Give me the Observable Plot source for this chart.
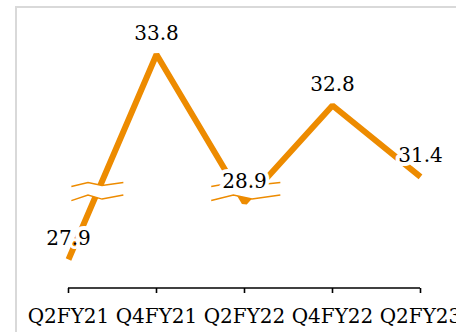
<!DOCTYPE html>
<html><head><meta charset="utf-8">
<script src="https://cdn.jsdelivr.net/npm/d3@7"></script>
<script src="https://cdn.jsdelivr.net/npm/@observablehq/plot@0.6"></script>
<style>
html,body{margin:0;padding:0;background:#fff;overflow:hidden;}
#wrap{position:relative;width:456px;height:332px;overflow:hidden;background:#fff;}
#frame{position:absolute;left:15px;top:6px;width:700px;height:700px;border:2px solid #d9d9d9;box-sizing:border-box;}
#chart{position:absolute;left:0;top:0;}
</style></head><body>
<div id="wrap"><div id="frame"></div><div id="chart"></div></div>
<script>
const quarters = ["Q2FY21", "Q4FY21", "Q2FY22", "Q4FY22", "Q2FY23"];
const values = [27.9, 33.8, 28.9, 32.8, 31.4];
const valueLabels = ["27.9", "33.8", "28.9", "32.8", "31.4"];
const axisBreak = [29.1, 31.2];   // value gap hidden by the broken axis
const yExtent = [27.4, 34.3];

const data = quarters.map((q, i) => ({q, v: values[i], label: valueLabels[i]}));
const orange = "#ED8B00";
const font = "DejaVu Serif";

// broken (piecewise) value axis
const yDomain = [yExtent[0], axisBreak[0], axisBreak[1], yExtent[1]];
const yRange = [287.5, 190.6, 186.6, 28.5];

function breakSymbols(index, scales) {
  const sx = scales.x, sy = scales.y;
  const yb = sy(axisBreak[0]);
  const xs = [];
  for (let i = 0; i < data.length - 1; i++) {
    const a = data[i], b = data[i + 1];
    const lo = Math.min(a.v, b.v), hi = Math.max(a.v, b.v);
    if (lo < axisBreak[0] && hi > axisBreak[1]) {
      const x0 = sx(a.q), x1 = sx(b.q), y0 = sy(a.v), y1 = sy(b.v);
      xs.push(x0 + (x1 - x0) * (yb - y0) / (y1 - y0));
    }
  }
  const groups = [];
  for (const x of xs) {
    const g = groups[groups.length - 1];
    if (g && x - g[g.length - 1] < 40) g.push(x); else groups.push([x]);
  }
  const fx = [-1, -0.36, 0.18, 1];
  const up = [-4, -8, -5, -8];
  const dn = [10, 4.5, 8.5, 4.5];
  const svg = d3.create("svg:g");
  for (const grp of groups) {
    const cx = d3.mean(grp);
    const hw = 26 + (d3.max(grp) - d3.min(grp)) / 2;
    const U = fx.map((f, i) => [cx + f * hw, yb + up[i]]);
    const D = fx.map((f, i) => [cx + f * hw, yb + dn[i]]);
    svg.append("path").attr("d", d3.line()([...U, ...D.slice().reverse()]) + "Z")
      .attr("fill", "white").attr("stroke", "none");
    svg.append("path").attr("d", d3.line()(U)).attr("fill", "none")
      .attr("stroke", orange).attr("stroke-width", 1.5);
    svg.append("path").attr("d", d3.line()(D)).attr("fill", "none")
      .attr("stroke", orange).attr("stroke-width", 1.5);
  }
  return svg.node();
}

const chart = Plot.plot({
  width: 456,
  height: 332,
  marginLeft: 68,
  marginRight: 36,
  marginTop: 20,
  marginBottom: 44,
  style: {background: "transparent", color: "black", fontFamily: font, overflow: "visible"},
  x: {type: "point", domain: quarters, padding: 0, label: null},
  y: {type: "linear", domain: yDomain, range: yRange, axis: null},
  marks: [
    Plot.line(data, {x: "q", y: "v", stroke: orange, strokeWidth: 6, strokeLinejoin: "miter", strokeLinecap: "butt"}),
    breakSymbols,
    Plot.text(data, {x: "q", y: "v", text: "label", dy: -21, fontSize: 20, fontFamily: font, fill: "black", stroke: "white", strokeWidth: 8}),
    Plot.ruleY([yExtent[0]], {stroke: "black", strokeWidth: 1.6}),
    Plot.axisX({tickSize: 5, tickPadding: 15, strokeWidth: 1.6, fontSize: 20, fontFamily: font, fill: "black", label: null})
  ]
});
document.getElementById("chart").appendChild(chart);
</script>
</body></html>
